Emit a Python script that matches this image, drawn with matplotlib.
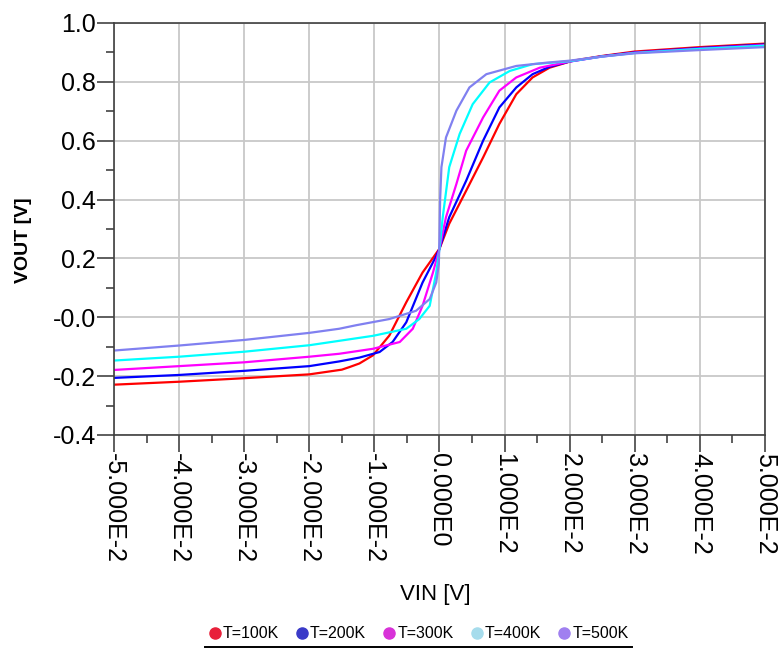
import matplotlib
matplotlib.use("Agg")
from matplotlib import pyplot as plt
from matplotlib.lines import Line2D
from matplotlib.ticker import MultipleLocator

plt.rcParams['font.family'] = ['Liberation Sans', 'DejaVu Sans']

# VOUT vs VIN
vin_100 = [-0.05, -0.04, -0.03, -0.02, -0.015, -0.0138, -0.0123, -0.0102, -0.0077, -0.0051, -0.0026, 0.0,
           0.0015, 0.0041, 0.0067, 0.0092, 0.0118, 0.0143, 0.0169, 0.0205, 0.025, 0.03, 0.04, 0.05]
vout_100 = [-0.229, -0.219, -0.207, -0.194, -0.178, -0.169, -0.157, -0.129, -0.062, 0.051, 0.152, 0.233,
            0.318, 0.43, 0.543, 0.657, 0.758, 0.815, 0.848, 0.872, 0.888, 0.903, 0.918, 0.93]

vin_200 = [-0.05, -0.04, -0.03, -0.02, -0.0154, -0.0123, -0.0092, -0.0072, -0.0051, -0.0026, -0.0005, 0.0,
           0.0015, 0.0041, 0.0067, 0.0092, 0.0118, 0.0143, 0.0169, 0.02, 0.025, 0.03, 0.04, 0.05]
vout_200 = [-0.206, -0.196, -0.182, -0.166, -0.150, -0.137, -0.118, -0.084, -0.017, 0.118, 0.208, 0.233,
            0.34, 0.464, 0.6, 0.713, 0.781, 0.826, 0.851, 0.869, 0.887, 0.9, 0.915, 0.927]

vin_300 = [-0.05, -0.04, -0.03, -0.02, -0.0154, -0.0102, -0.0061, -0.0041, -0.0026, -0.001, 0.0,
           0.001, 0.0026, 0.0041, 0.0067, 0.0092, 0.0118, 0.0154, 0.02, 0.025, 0.03, 0.04, 0.05]
vout_300 = [-0.179, -0.166, -0.153, -0.134, -0.124, -0.107, -0.084, -0.039, 0.039, 0.152, 0.233,
            0.34, 0.453, 0.566, 0.679, 0.77, 0.815, 0.848, 0.869, 0.886, 0.899, 0.913, 0.925]

vin_400 = [-0.05, -0.04, -0.03, -0.02, -0.0154, -0.0102, -0.0051, -0.0031, -0.0015, -0.0005, 0.0,
           0.0005, 0.0015, 0.0031, 0.0051, 0.0077, 0.0108, 0.0143, 0.02, 0.025, 0.03, 0.04, 0.05]
vout_400 = [-0.147, -0.134, -0.117, -0.095, -0.08, -0.063, -0.039, -0.006, 0.039, 0.152, 0.233,
            0.34, 0.51, 0.623, 0.724, 0.798, 0.837, 0.86, 0.87, 0.886, 0.898, 0.912, 0.923]

vin_500 = [-0.05, -0.04, -0.03, -0.02, -0.0154, -0.0128, -0.0077, -0.0036, -0.0015, -0.0005, -0.0001, 0.0,
           0.0001, 0.0003, 0.001, 0.0026, 0.0046, 0.0072, 0.0118, 0.0164, 0.02, 0.025, 0.03, 0.04, 0.05]
vout_500 = [-0.113, -0.096, -0.077, -0.053, -0.039, -0.027, -0.006, 0.022, 0.062, 0.118, 0.18, 0.272,
            0.4, 0.51, 0.611, 0.702, 0.781, 0.826, 0.854, 0.865, 0.872, 0.886, 0.897, 0.908, 0.918]

labels = ['T=100K', 'T=200K', 'T=300K', 'T=400K', 'T=500K']
line_colors = ['#ff0000', '#0000ff', '#ff00ff', '#00ffff', '#8080f0']
legend_colors = ['#e8203a', '#3a3ac8', '#d832d8', '#a6dcec', '#a080f0']

x_ticks = [-0.05, -0.04, -0.03, -0.02, -0.01, 0.0, 0.01, 0.02, 0.03, 0.04, 0.05]
x_ticklabels = ['-5.000E-2', '-4.000E-2', '-3.000E-2', '-2.000E-2', '-1.000E-2', '0.000E0',
                '1.000E-2', '2.000E-2', '3.000E-2', '4.000E-2', '5.000E-2']
y_ticks = [-0.4, -0.2, 0.0, 0.2, 0.4, 0.6, 0.8, 1.0]
y_ticklabels = ['-0.4', '-0.2', '-0.0', '0.2', '0.4', '0.6', '0.8', '1.0']

fig = plt.figure(figsize=(7.79, 6.51), dpi=100)
ax = fig.add_axes([0.1463, 0.3318, 0.8357, 0.6329])

curves = [(vin_100, vout_100), (vin_200, vout_200), (vin_300, vout_300),
          (vin_400, vout_400), (vin_500, vout_500)]
for (xs, ys), c in zip(curves, line_colors):
    ax.plot(xs, ys, color=c, linewidth=1.6)

ax.set_xlim(-0.05, 0.05)
ax.set_ylim(-0.4, 1.0)
ax.set_xticks(x_ticks)
ax.set_xticklabels(x_ticklabels, rotation=-90, fontsize=18)
ax.set_yticks(y_ticks)
ax.set_yticklabels(y_ticklabels, fontsize=18)
ax.xaxis.set_minor_locator(MultipleLocator(0.005))
ax.yaxis.set_minor_locator(MultipleLocator(0.1))
ax.tick_params(which='major', direction='out', length=12, width=1.1, color='#333333', pad=1)
ax.tick_params(which='minor', direction='out', length=6, width=1.1, color='#333333')
ax.grid(True, which='major', color='#c8c8c8', linewidth=1.3)
ax.set_axisbelow(True)
for s in ax.spines.values():
    s.set_color('#404040')
    s.set_linewidth(1.2)

ax.set_xlabel('VIN [V]', fontsize=16)
ax.xaxis.set_label_coords((435 - 114) / 651, -(584 - 435) / 412)
ax.set_ylabel('VOUT [V]', fontsize=14, fontweight='bold')
ax.yaxis.set_label_coords(-(114 - 32) / 651, (435 - 240) / 412)

handles = [Line2D([], [], marker='o', linestyle='none', markersize=8, color=c) for c in legend_colors]
fig.legend(handles, labels, loc='center', bbox_to_anchor=(0.536, 1 - 634 / 651), ncol=5,
           frameon=False, fontsize=11.5, handletextpad=0.0, columnspacing=0.95, handlelength=1.0)
fig.add_artist(Line2D([205 / 779, 632 / 779], [1 - 647 / 651, 1 - 647 / 651],
                      transform=fig.transFigure, color='black', linewidth=1.4))

fig.savefig('out.png', dpi=100)
